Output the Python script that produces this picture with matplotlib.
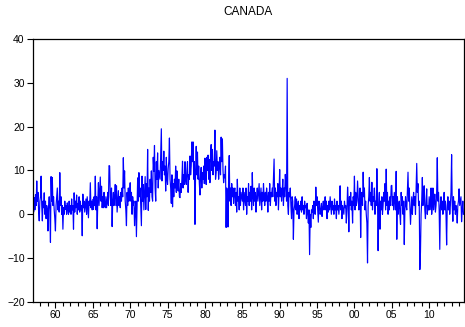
import matplotlib
matplotlib.use("Agg")
import matplotlib.pyplot as plt
import numpy as np

# monthly values, one list per year (1957M01 - 2014M08)
start_year = 1957
y1957 = [2.0, 0.5, 3.8, 1.0, 4.5, 2.0, 7.6, 3.0, 5.0, 0.5, -1.5, 3.0]
y1958 = [4.0, 8.7, 2.0, -1.5, 3.0, 1.5, 4.9, 0.0, 3.0, -1.0, 2.0, 1.0]
y1959 = [-3.8, 2.0, 4.0, 1.0, -6.4, 8.6, 3.0, 8.4, 2.0, 4.0, 1.0, -1.0]
y1960 = [-3.8, 2.0, 4.0, 6.0, 1.0, 3.0, 0.5, 9.5, 2.0, 4.0, 0.0, 2.0]
y1961 = [-3.4, 1.5, 0.0, 3.0, 1.1, 2.0, 0.0, 2.6, 1.0, 0.0, 3.0, 0.5]
y1962 = [2.0, 0.0, 3.5, 1.0, 2.0, -3.4, 4.9, 0.5, 3.0, 1.5, 4.4, 0.0]
y1963 = [2.5, 1.0, 4.0, 0.5, 3.0, 1.0, 2.0, -4.9, 4.6, 1.5, 3.0, 0.5]
y1964 = [2.0, 3.5, 0.0, 4.0, 1.5, -0.8, 3.0, 2.0, 7.2, 1.5, 3.0, 1.0]
y1965 = [3.4, 1.1, 4.0, 2.0, 8.7, 1.0, 4.0, -3.3, 3.0, 7.2, 2.0, 5.0]
y1966 = [8.5, 3.0, 6.4, 1.5, 4.0, 1.5, 5.0, 2.0, 1.5, 4.0, 1.5, 3.0]
y1967 = [5.0, 2.0, 11.1, 11.0, 4.0, 2.0, 6.0, -2.8, 3.0, 5.0, 2.0, 4.0]
y1968 = [6.8, 2.0, 6.5, 0.5, 3.0, 5.4, 2.0, 4.0, 1.5, 5.0, 3.0, 6.0]
y1969 = [4.0, 12.9, 6.0, 9.9, 3.0, 1.0, -2.6, 5.0, 2.0, 6.0, 3.0, 4.9]
y1970 = [7.2, 3.0, 5.0, 0.0, 4.0, 2.0, 3.0, -2.6, 1.0, 3.0, -5.1, 2.0]
y1971 = [8.3, 3.0, 9.5, 4.0, 6.0, 2.0, -2.6, 8.7, 3.0, 6.8, 1.0, 5.0]
y1972 = [8.6, 1.1, 7.0, 4.0, 14.8, 0.9, 6.0, 3.0, 8.0, 5.0, 9.9, 4.0]
y1973 = [3.0, 13.0, 9.8, 15.7, 6.0, 3.0, 12.0, 8.0, 14.0, 6.0, 10.0, 9.0]
y1974 = [8.0, 14.0, 19.5, 7.6, 12.0, 10.0, 14.4, 9.0, 11.0, 5.3, 13.0, 8.0]
y1975 = [6.8, 10.5, 12.0, 17.4, 8.0, 6.0, 2.5, 9.0, 1.7, 7.0, 4.0, 8.0]
y1976 = [6.0, 11.0, 5.0, 9.9, 6.8, 5.3, 8.0, 4.0, 3.8, 7.0, 5.0, 8.0]
y1977 = [12.1, 6.0, 9.0, 6.8, 12.0, 8.0, 6.8, 10.0, 12.0, 5.0, 9.0, 8.0]
y1978 = [13.3, 9.0, 11.0, 16.5, 12.0, 16.5, 8.0, 12.0, -2.3, 10.0, 15.5, 9.0]
y1979 = [14.2, 8.0, 11.0, 7.0, 4.4, 9.0, 10.7, 6.0, 9.5, 8.0, 11.0, 7.0]
y1980 = [12.8, 9.0, 6.8, 13.0, 10.0, 13.5, 8.0, 12.5, 7.2, 13.6, 15.9, 10.0]
y1981 = [14.8, 9.0, 12.0, 11.0, 19.2, 8.0, 9.5, 14.5, 10.0, 12.0, 8.0, 11.0]
y1982 = [13.0, 9.0, 17.6, 12.0, 17.2, 10.0, 7.2, 9.0, 8.3, 11.0, -3.0, 6.0]
y1983 = [5.0, -2.9, 8.0, 13.4, 3.0, 6.0, 2.0, 7.0, 4.0, 6.0, 2.5, 5.0]
y1984 = [6.0, 2.0, 5.0, 0.5, 8.0, 3.0, 4.0, 1.0, 6.0, 2.0, 5.0, 4.0]
y1985 = [3.0, 6.0, 1.0, 5.0, 3.5, 2.0, 6.0, 0.0, 4.0, 3.0, 7.0, 2.0]
y1986 = [5.0, 3.0, 6.4, 1.0, 9.5, 4.0, 2.0, 6.0, 3.0, 5.0, 0.5, 4.0]
y1987 = [6.0, 3.0, 5.0, 7.0, 2.0, 4.0, 6.0, 1.0, 5.0, 3.0, 7.0, 4.0]
y1988 = [2.0, 5.0, 3.0, 6.0, 4.0, 0.5, 5.0, 3.0, 7.0, 2.0, 5.0, 4.0]
y1989 = [6.0, 4.0, 8.0, 12.6, 3.0, 6.0, 2.0, 5.0, 4.0, 7.0, 1.0, 5.0]
y1990 = [10.2, 4.0, 6.0, 3.0, 5.0, 8.0, 2.0, 6.0, 4.0, 9.1, 7.0, 3.0]
y1991 = [31.0, 2.0, 0.0, 5.0, 4.0, 6.0, 2.0, -1.0, 4.0, 3.0, -5.7, 1.0]
y1992 = [2.0, 4.0, 1.0, 3.5, 0.0, 2.0, 3.0, -1.0, 2.0, 1.0, 3.0, 0.5]
y1993 = [4.0, 1.0, 2.0, 0.0, 3.0, 1.5, 2.0, -1.0, 2.5, 0.5, -2.0, 1.0]
y1994 = [-9.2, 0.0, -3.0, 1.0, 0.5, 2.0, -1.0, 3.0, 1.0, 0.0, 6.2, 2.0]
y1995 = [4.0, 1.0, -1.8, 3.0, 2.0, 0.0, 1.0, 2.5, -0.5, 1.5, 3.0, 1.0]
y1996 = [2.0, 4.0, 1.0, 3.0, -1.0, 2.0, 0.5, 3.0, 1.0, 4.0, 2.0, 0.0]
y1997 = [3.0, 1.0, 2.0, 0.0, 3.5, 1.0, 2.0, -1.0, 3.0, 1.0, 2.0, 0.0]
y1998 = [2.0, 6.5, 1.0, 3.0, -1.0, 2.0, 1.0, 0.0, 3.0, 1.5, 2.0, -2.0]
y1999 = [1.0, 6.2, 3.0, -4.0, 4.0, 2.0, 5.0, 1.0, 3.0, -2.0, 4.0, 2.0]
y2000 = [8.7, 1.0, 5.0, 2.0, 3.0, 7.6, 4.0, 1.0, 3.0, 6.0, -5.3, 3.0]
y2001 = [5.0, 2.0, 9.6, 4.0, 6.0, 1.0, 3.0, 0.0, -2.0, -11.1, 2.0, 4.0]
y2002 = [8.4, 3.0, 5.0, 2.0, 7.3, 1.0, 4.0, 3.0, 6.0, 0.0, 3.0, 2.0]
y2003 = [10.4, 4.0, -8.3, 2.0, 5.0, -3.4, 3.0, 1.0, 4.0, 0.0, 2.0, 5.0]
y2004 = [3.0, 7.0, 1.0, 10.3, 2.0, 5.0, 0.0, 3.0, 1.0, 4.0, 2.0, 6.5]
y2005 = [6.6, 2.0, 4.0, 1.0, 5.0, 3.0, 1.0, 9.8, -5.7, 4.0, 0.0, 2.0]
y2006 = [3.0, 0.0, -2.3, 5.0, 2.0, 4.0, 0.0, 3.0, -6.9, 1.0, 4.0, 2.0]
y2007 = [1.0, 5.0, 9.6, 3.0, 6.0, 2.0, -2.3, 1.0, 4.0, 0.0, 3.0, 5.0]
y2008 = [2.0, 4.0, 0.0, 6.0, 11.6, 5.0, 7.0, 2.0, 3.0, -12.6, -8.7, 0.0]
y2009 = [3.0, 8.4, 2.0, 4.0, 6.5, 1.0, -1.0, 3.0, 5.8, 0.0, 2.0, 1.0]
y2010 = [4.0, 1.0, 3.0, 6.0, 0.0, 2.0, 6.0, 1.0, 3.0, 4.6, 0.5, 2.0]
y2011 = [5.0, 12.9, 3.0, 5.0, 1.0, -8.0, 2.0, 4.0, 1.0, 3.0, 0.0, 2.0]
y2012 = [5.0, 1.0, 3.0, 0.0, -7.0, 2.0, 4.0, 1.0, 3.0, 0.0, 2.0, 5.0]
y2013 = [13.6, 2.0, -1.6, 4.0, 1.0, 3.0, 0.0, 2.0, 1.0, -2.0, 2.0, 3.0]
y2014 = [5.8, 2.0, 3.0, 4.0, -1.7, 1.0, 3.0, 0.0]

canada = (y1957 + y1958 + y1959 + y1960 + y1961 + y1962 + y1963 + y1964 +
          y1965 + y1966 + y1967 + y1968 + y1969 + y1970 + y1971 + y1972 +
          y1973 + y1974 + y1975 + y1976 + y1977 + y1978 + y1979 + y1980 +
          y1981 + y1982 + y1983 + y1984 + y1985 + y1986 + y1987 + y1988 +
          y1989 + y1990 + y1991 + y1992 + y1993 + y1994 + y1995 + y1996 +
          y1997 + y1998 + y1999 + y2000 + y2001 + y2002 + y2003 + y2004 +
          y2005 + y2006 + y2007 + y2008 + y2009 + y2010 + y2011 + y2012 +
          y2013 + y2014)

yticks = [-20, -10, 0, 10, 20, 30, 40]
xtick_years = [1960, 1965, 1970, 1975, 1980, 1985, 1990, 1995, 2000, 2005, 2010]

t = start_year + np.arange(len(canada)) / 12.0

plt.rcParams['font.family'] = ['Liberation Sans', 'DejaVu Sans']

fig = plt.figure(figsize=(4.65, 3.27), dpi=100)
ax = fig.add_axes([0.071, 0.0765, 0.927, 0.8045])
ax.plot(t, canada, color='#0000ff', lw=0.85)

ax.set_xlim(start_year, t[-1] + 1 / 12.0)
ax.set_ylim(-20, 40)
ax.set_yticks(yticks)
ax.set_xticks(xtick_years)
ax.set_xticklabels(['%02d' % (y % 100) for y in xtick_years])
ax.set_xticks(np.arange(1958, 2015), minor=True)
ax.tick_params(axis='both', which='major', labelsize=7.5, direction='out',
               length=4, width=0.8, color='black', pad=2)
ax.tick_params(axis='x', which='minor', direction='out', length=3, width=0.8)
ax.tick_params(axis='y', which='minor', left=False)
for s in ax.spines.values():
    s.set_linewidth(0.9)

fig.text(0.534, 0.962, 'CANADA', ha='center', va='center', fontsize=8.5)

fig.savefig('out.png', dpi=100)
